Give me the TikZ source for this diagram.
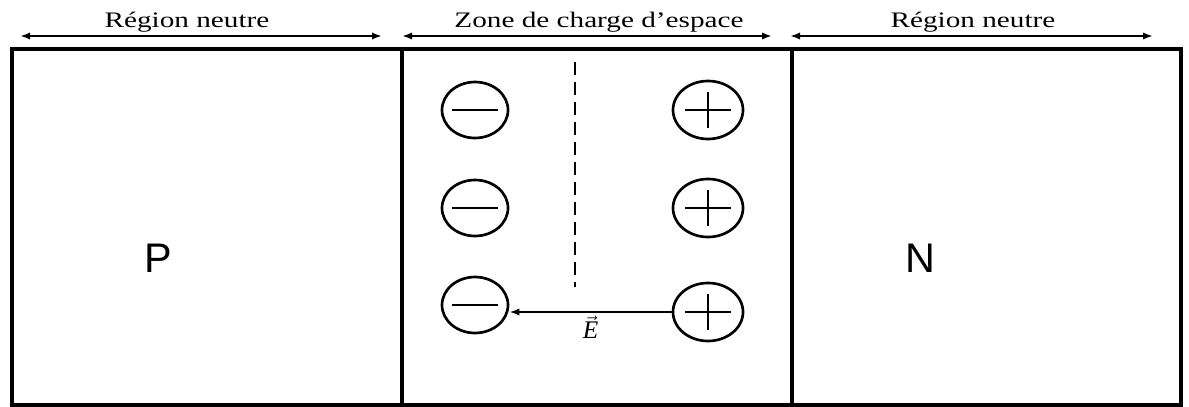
\documentclass[tikz,border=0pt]{standalone}
\usepackage{fontspec}
\setmainfont{Liberation Serif}
\newfontfamily\wideserif[FakeStretch=1.32]{Liberation Serif}
\newfontfamily\letterfont{Liberation Sans}
\usetikzlibrary{arrows.meta}
\usetikzlibrary{shapes.geometric, math}

\begin{document}
\begin{tikzpicture}[x=0.75pt,y=-0.75pt,
  negcharge/.style={draw, ellipse, line width=2pt, minimum width=49.5pt, minimum height=42pt, inner sep=0pt},
  poscharge/.style={draw, ellipse, line width=2pt, minimum width=52.5pt, minimum height=43.5pt, inner sep=0pt},
  span/.style={line width=1.5pt, {Latex[length=7.5pt,width=5.5pt]}-{Latex[length=7.5pt,width=5.5pt]}},
  lbl/.style={anchor=base, font=\wideserif\fontsize{16.6}{18}\selectfont}]
\tikzmath{
\yt=49;
\yb=405;
\ya=36;
\yl=27.5;
}
\useasboundingbox (0,0) rectangle (1189,407);

%regions:
 \draw[line width=2.4pt] (12,\yt) rectangle (1181,\yb);
 \draw[line width=2.4pt] (402,\yt) -- (402,\yb);
 \draw[line width=2.4pt] (792,\yt) -- (792,\yb);

%widths:
 \draw[span] (20,\ya) -- (382,\ya);
 \draw[span] (402,\ya) -- (772,\ya);
 \draw[span] (790,\ya) -- (1153,\ya);
 \node[lbl] (lP) at (187,\yl) {Région neutre};
 \node[lbl] (lZ) at (599,\yl) {Zone de charge d’espace};
 \node[lbl] (lN) at (973,\yl) {Région neutre};

 \node[font=\letterfont\fontsize{31}{34}\selectfont] (P) at (158,258) {P};
 \node[font=\letterfont\fontsize{31}{34}\selectfont] (N) at (920,258) {N};

%charges
 \foreach \i/\ym/\yp in {1/110/110, 2/208/208, 3/305/312}{
  \node[negcharge] (m\i) at (475,\ym) {};
  \node[poscharge] (p\i) at (708,\yp) {};
  \draw[line width=1.7pt] (m\i.center) +(-23,0) -- +(23,0);
  \draw[line width=1.7pt] (p\i.center) +(-23,0) -- +(23,0);
  \draw[line width=1.7pt] (p\i.center) +(0,-18) -- +(0,18);
 }

 \draw[line width=1.5pt, dash pattern=on 10pt off 5pt] (575,62) -- (575,287);

%field
 \draw[line width=1.5pt,-{Latex[length=7.5pt,width=5.5pt]}] (p3.west) -- (p3.west -| m3.east)
   node[midway, below=1pt, inner sep=1pt, font=\fontsize{19}{21}\selectfont] (E) {$\vec{\textit{E}}$};
\end{tikzpicture}
\end{document}
